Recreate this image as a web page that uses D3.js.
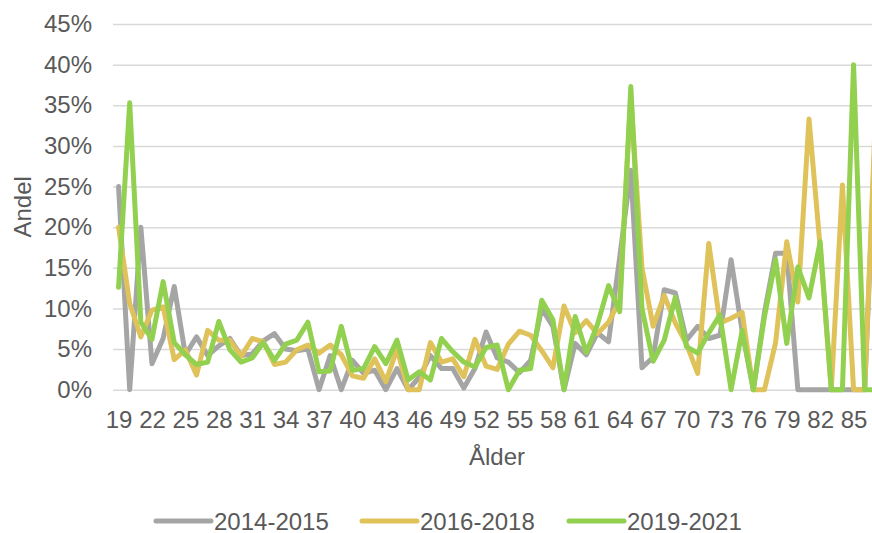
<!DOCTYPE html>
<html>
<head>
<meta charset="utf-8">
<script src="https://cdn.jsdelivr.net/npm/d3@7"></script>
<style>
  html, body { margin: 0; padding: 0; background: #fff; }
  svg { display: block; font-family: "Liberation Sans", Arial, sans-serif; }
</style>
</head>
<body>
<svg id="chart" width="872" height="533"></svg>
<script>
// ---- data ----
const ages = d3.range(19, 88); // 19..87
const tickAges = [19, 22, 25, 28, 31, 34, 37, 40, 43, 46, 49, 52, 55, 58, 61, 64, 67, 70, 73, 76, 79, 82, 85];
const yTicks = [0, 0.05, 0.10, 0.15, 0.20, 0.25, 0.30, 0.35, 0.40, 0.45];
const seriesNames = ["2014-2015", "2016-2018", "2019-2021"];

const s2014 = [25, 0, 20, 3.2, 6.3, 12.7, 4.3, 6.5, 4.2, 5.4,
  6.3, 4.2, 4.4, 6, 6.9, 5, 4.8, 5, 0, 4.2,
  0, 3.6, 2, 2.4, 0, 2.6, 0, 1.5, 4.2, 2.6,
  2.6, 0.2, 2.6, 7.1, 3.9, 3.4, 2.1, 3.6, 10, 7.8,
  0, 5.7, 4.3, 7, 5.9, 16.3, 27, 2.7, 4, 12.3,
  11.9, 6.1, 7.8, 6.3, 6.7, 16, 7.2, 0, 9.5, 16.8,
  16.8, 0, 0, 0, 0, 0, 0, 0, 33];
const s2016 = [20, 10.6, 6.5, 9.8, 10.2, 3.7, 4.9, 1.8, 7.3, 6.1,
  6.1, 4.1, 6.3, 5.9, 3.1, 3.4, 4.9, 5.5, 4.5, 5.5,
  4.3, 1.7, 1.4, 3.8, 1, 5, 0, 0, 5.8, 3.4,
  3.8, 1.6, 6.2, 2.9, 2.5, 5.6, 7.2, 6.7, 4.8, 2.7,
  10.3, 7, 8.5, 6.9, 8.3, 11, 36, 15, 7.8, 11.6,
  8.2, 5.6, 2, 18, 8.2, 8.8, 9.5, 0, 0, 5.8,
  18.2, 10.8, 33.3, 17.5, 0, 25.2, 0, 0, 35];
const s2019 = [12.6, 35.3, 8.3, 6.2, 13.3, 5.8, 4.3, 3.1, 3.4, 8.4,
  4.9, 3.4, 3.9, 5.8, 3.6, 5.6, 6.1, 8.3, 2.2, 2.3,
  7.8, 2.4, 2.6, 5.3, 3.2, 6.1, 1.2, 2.2, 1.2, 6.3,
  4.7, 3.4, 2.8, 5.2, 5.5, 0, 2.4, 2.6, 11, 8.6,
  0, 9, 4.6, 8, 12.8, 9.6, 37.3, 10, 3.5, 6.1,
  11.4, 5.3, 4.5, 7, 9.2, 0, 7.3, 0, 9, 16,
  5.7, 15.1, 11.3, 18.2, 0, 0, 40, 0, 0];

const seriesValues = [s2014, s2016, s2019];
const colors = ["#A5A5A5", "#DFC25A", "#92D050"];

// ---- layout ----
const svg = d3.select("#chart");
const plot = { left: 113, right: 881.4, top: 24, bottom: 389.7 };
const textColor = "#595959";
const fontSize = 24;

const x = d3.scalePoint().domain(ages).range([plot.left, plot.right]).padding(0.5);
const y = d3.scaleLinear().domain([0, 0.45]).range([plot.bottom, plot.top]);

// gridlines + y labels
const yAxis = d3.axisLeft(y).tickValues(yTicks).tickFormat(d3.format(".0%"))
  .tickSize(-(plot.right - plot.left)).tickPadding(21);
const gy = svg.append("g").attr("transform", `translate(${plot.left},0)`).call(yAxis);
gy.select(".domain").remove();
gy.selectAll(".tick line").attr("stroke", "#D9D9D9").attr("stroke-width", 1.5);
gy.selectAll(".tick text").attr("fill", textColor).style("font-size", fontSize + "px")
  .style("font-family", "'Liberation Sans', Arial, sans-serif");

// x labels
const xAxis = d3.axisBottom(x).tickValues(tickAges).tickSize(0).tickPadding(21);
const gx = svg.append("g").attr("transform", `translate(0,${plot.bottom})`).call(xAxis);
gx.select(".domain").remove();
gx.selectAll(".tick text").attr("fill", textColor).style("font-size", fontSize + "px")
  .style("font-family", "'Liberation Sans', Arial, sans-serif");

// lines
const line = d3.line().x((d, i) => x(ages[i])).y(d => y(d / 100));
seriesValues.forEach((vals, k) => {
  svg.append("path").datum(vals)
    .attr("d", line)
    .attr("fill", "none")
    .attr("stroke", colors[k])
    .attr("stroke-width", 5)
    .attr("stroke-linejoin", "round")
    .attr("stroke-linecap", "round");
});

// axis titles
svg.append("text").attr("x", 497).attr("y", 465).attr("text-anchor", "middle")
  .attr("fill", textColor).style("font-size", fontSize + "px").text("Ålder");
svg.append("text").attr("transform", `translate(31,${(plot.top + plot.bottom) / 2}) rotate(-90)`)
  .attr("text-anchor", "middle").attr("fill", textColor).style("font-size", fontSize + "px").text("Andel");

// legend
const legendX = [156, 362, 569];
const legendY = 521;
seriesNames.forEach((name, k) => {
  const g = svg.append("g").attr("transform", `translate(${legendX[k]},${legendY})`);
  g.append("line").attr("x1", 0).attr("x2", 55).attr("y1", 0).attr("y2", 0)
    .attr("stroke", colors[k]).attr("stroke-width", 5).attr("stroke-linecap", "round");
  g.append("text").attr("x", 58).attr("y", 8.5).attr("fill", textColor)
    .style("font-size", fontSize + "px").text(name);
});
</script>
</body>
</html>
